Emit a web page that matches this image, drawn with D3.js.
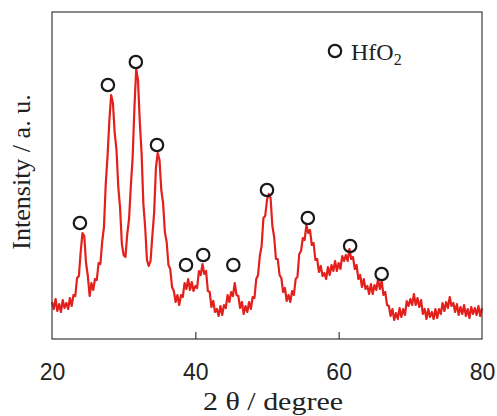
<!DOCTYPE html>
<html>
<head>
<meta charset="utf-8">
<script src="https://cdn.jsdelivr.net/npm/d3@7/dist/d3.min.js"></script>
<style>
  html, body { margin: 0; padding: 0; background: #fff; }
  svg { display: block; }
</style>
</head>
<body>
<div id="chart"></div>
<script>
const twoThetaStart = 20;
const twoThetaStep = 0.25;
const intensity = [
  37,30,40,28,35,27,39,31,36,30,41,33,
  44,43,61,63,87,106,103,76,63,43,56,49,
  60,59,76,75,97,112,155,183,218,244,236,206,
  189,152,131,95,84,82,105,120,153,181,231,270,
  259,217,186,135,112,79,73,78,103,126,171,186,
  179,149,136,107,97,74,70,52,48,37,44,34,
  44,42,56,50,60,49,57,48,53,51,68,64,
  75,65,68,48,47,32,38,27,30,23,33,24,
  34,31,44,37,47,43,56,44,43,31,37,25,
  33,27,37,30,42,41,60,64,83,93,121,123,
  139,145,141,113,102,80,80,64,61,47,51,38,
  44,37,48,44,60,62,85,88,101,99,114,106,
  109,94,96,79,80,67,73,63,66,60,72,64,
  74,68,78,68,76,70,83,78,84,78,90,80,
  82,70,74,60,64,52,60,50,53,45,55,45,
  54,49,60,50,58,44,47,34,33,23,30,19,
  26,20,31,22,30,24,38,33,40,34,45,34,
  41,32,39,25,30,20,30,22,27,20,30,21,
  30,25,36,28,37,31,42,33,36,27,35,24,
  32,25,34,23,30,21,32,25,31,24,33,23,
  31
];
// HfO2 reflection markers (2θ, marker height in a.u.)
const markerTheta = [23.9, 27.8, 31.7, 34.65, 38.7, 41.1, 45.3, 50.0, 55.7, 61.6, 66.0];
const markerHeight = [116, 254, 277, 194, 74, 84, 74, 149, 121, 93, 65];
const xTicks = [20, 40, 60, 80];

const W = 497, H = 416;
const margin = {left: 52, right: 15, top: 12, bottom: 77};
const iw = W - margin.left - margin.right;
const ih = H - margin.top - margin.bottom;

const svg = d3.select("#chart").append("svg").attr("width", W).attr("height", H);
const g = svg.append("g").attr("transform", `translate(${margin.left},${margin.top})`);

const x = d3.scaleLinear().domain([20, 80]).range([0, iw]);
const y = d3.scaleLinear().domain([0, 327]).range([ih, 0]);

const data = intensity.map((v, i) => ({t: twoThetaStart + i * twoThetaStep, v}));

// curve
g.append("path")
  .datum(data)
  .attr("fill", "none")
  .attr("stroke", "#e3201b")
  .attr("stroke-width", 2.2)
  .attr("stroke-linejoin", "round")
  .attr("d", d3.line().x(d => x(d.t)).y(d => y(d.v)));

// frame
g.append("rect").attr("x", 0).attr("y", 0).attr("width", iw).attr("height", ih)
  .attr("fill", "none").attr("stroke", "#3a3a3a").attr("stroke-width", 1.2);

// bottom axis with inward ticks
const xAxis = d3.axisBottom(x).tickValues(xTicks).tickSize(-7).tickPadding(25).tickFormat(d3.format("d"));
const ax = g.append("g").attr("transform", `translate(0,${ih})`).call(xAxis);
ax.select(".domain").remove();
ax.selectAll(".tick line").attr("stroke", "#3a3a3a").attr("stroke-width", 1.2)
  .filter(d => d === 20 || d === 80).remove();
ax.selectAll(".tick text")
  .attr("font-family", "'Liberation Sans', Arial, sans-serif")
  .attr("font-size", 23).attr("fill", "#222");

// markers
g.selectAll("circle.m").data(markerTheta).join("circle")
  .attr("class", "m")
  .attr("cx", d => x(d))
  .attr("cy", (d, i) => y(markerHeight[i]))
  .attr("r", 6.2)
  .attr("fill", "none").attr("stroke", "#1a1a1a").attr("stroke-width", 2.2);

// legend
svg.append("circle").attr("cx", 335).attr("cy", 51).attr("r", 6.2)
  .attr("fill", "none").attr("stroke", "#1a1a1a").attr("stroke-width", 2.2);
const lt = svg.append("text").attr("x", 351).attr("y", 60)
  .attr("font-family", "'Liberation Serif', 'DejaVu Serif', serif")
  .attr("font-size", 24).attr("fill", "#222");
lt.append("tspan").text("HfO");
lt.append("tspan").attr("font-size", 16).attr("dy", 5).text("2");

// axis titles
svg.append("text").attr("x", 273).attr("y", 410).attr("text-anchor", "middle")
  .attr("font-family", "'Liberation Serif', 'DejaVu Serif', serif")
  .attr("font-size", 26).attr("fill", "#222")
  .attr("textLength", 140).attr("lengthAdjust", "spacingAndGlyphs")
  .text("2 θ / degree");

svg.append("text")
  .attr("transform", "translate(30,172) rotate(-90)")
  .attr("text-anchor", "middle")
  .attr("font-family", "'Liberation Serif', 'DejaVu Serif', serif")
  .attr("font-size", 26).attr("fill", "#222")
  .text("Intensity / a. u.");
</script>
</body>
</html>
